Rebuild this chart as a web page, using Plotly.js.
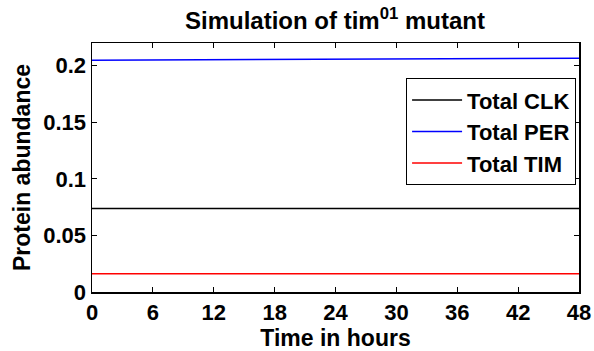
<!DOCTYPE html>
<html>
<head>
<meta charset="utf-8">
<script src="https://cdn.plot.ly/plotly-3.0.1.min.js"></script>
<style>html,body{margin:0;padding:0;background:#fff;}#chart{width:594px;height:351px;}</style>
</head>
<body>
<div id="chart"></div>
<script>
const timeHours = [0, 12, 24, 36, 48];
const totalCLK = [0.0737, 0.0737, 0.0737, 0.0737, 0.0737];
const totalPER = [0.2047, 0.2052, 0.2056, 0.2061, 0.2066];
const totalTIM = [0.0162, 0.0162, 0.0162, 0.0162, 0.0162];
const seriesNames = ['Total CLK', 'Total PER', 'Total TIM'];
const xTicks = [0, 6, 12, 18, 24, 30, 36, 42, 48];
const yTicks = [0, 0.05, 0.1, 0.15, 0.2];
const yTickLabels = ['0', '0.05', '0.1', '0.15', '0.2'];

const font = 'Liberation Sans, Arial, sans-serif';
const traces = [
  {x: timeHours, y: totalCLK, name: seriesNames[0], mode: 'lines', line: {color: '#000000', width: 1.5}},
  {x: timeHours, y: totalPER, name: seriesNames[1], mode: 'lines', line: {color: '#0000ff', width: 1.5}},
  {x: timeHours, y: totalTIM, name: seriesNames[2], mode: 'lines', line: {color: '#ff0000', width: 1.5}}
];
const axisCommon = {
  showline: true, linecolor: '#000', linewidth: 1.5, mirror: 'ticks',
  ticks: 'inside', ticklen: 5, tickcolor: '#000', tickwidth: 1,
  showgrid: false, zeroline: false,
  tickfont: {family: font, size: 22, color: '#000', weight: 'bold'}
};
const layout = {
  width: 594, height: 351,
  margin: {l: 92, r: 15, t: 43, b: 59},
  paper_bgcolor: '#fff', plot_bgcolor: '#fff',
  title: {text: 'Simulation of tim<sup>01</sup> mutant', font: {family: font, size: 24, color: '#000', weight: 'bold'},
          x: 0.564, xanchor: 'center', y: 0.942, yanchor: 'middle'},
  xaxis: Object.assign({}, axisCommon, {range: [0, 48], tickvals: xTicks, ticktext: xTicks.map(String),
          title: {text: 'Time in hours', font: {family: font, size: 23, color: '#000', weight: 'bold'}, standoff: 2}}),
  yaxis: Object.assign({}, axisCommon, {range: [0, 0.22], tickvals: yTicks, ticktext: yTickLabels,
          title: {text: 'Protein abundance', font: {family: font, size: 23, color: '#000', weight: 'bold'}, standoff: 6}}),
  showlegend: true,
  legend: {x: 0.994, xanchor: 'right', y: 0.859, yanchor: 'top', bordercolor: '#000', borderwidth: 1,
           bgcolor: '#fff', itemwidth: 50, font: {family: font, size: 22, color: '#000', weight: 'bold'}}
};
Plotly.newPlot('chart', traces, layout, {displayModeBar: false, staticPlot: true});
</script>
</body>
</html>
